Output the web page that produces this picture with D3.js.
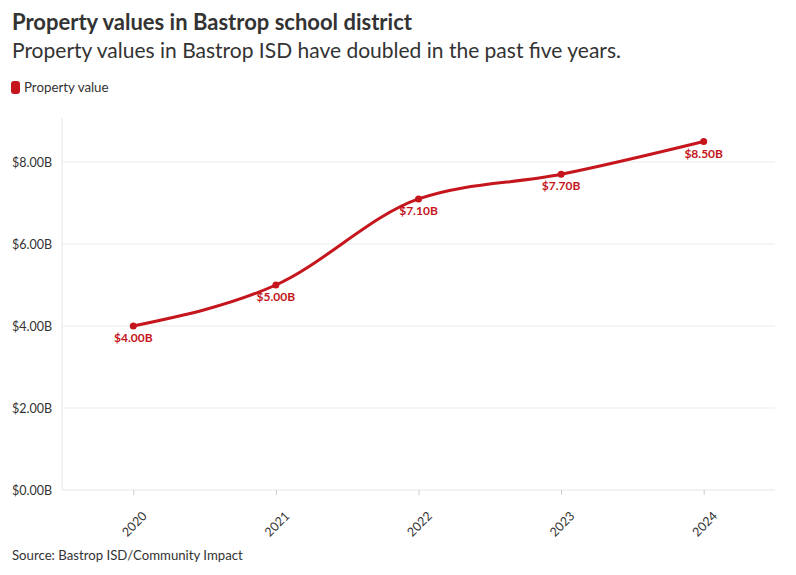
<!DOCTYPE html>
<html lang="en">
<head>
<meta charset="UTF-8">
<title>Property values in Bastrop school district</title>
<style>
  body { margin: 0; background: #fff; }
  text { font-family: Lato, "Noto Sans", sans-serif; }
</style>
</head>
<body>
<div id="target"></div>
<script src="https://d3js.org/d3.v7.min.js"></script>
<script>
  const years = ["2020", "2021", "2022", "2023", "2024"];
  const values = [4.0, 5.0, 7.1, 7.7, 8.5]; // billions
  const yTicks = [0, 2, 4, 6, 8];

  const width = 796, height = 575;
  const red = "#c4161c";
  const plotLeft = 62, plotRight = 775, plotTop = 118, plotBottom = 490;

  const svg = d3.select("#target").append("svg")
    .attr("width", width).attr("height", height);

  svg.append("text").attr("x", 12).attr("y", 30)
    .attr("font-size", 22).attr("font-weight", 700).attr("fill", "#333")
    .text("Property values in Bastrop school district");
  svg.append("text").attr("x", 12).attr("y", 58)
    .attr("font-size", 21).attr("fill", "#333")
    .text("Property values in Bastrop ISD have doubled in the past five years.");

  svg.append("rect").attr("x", 11).attr("y", 81).attr("width", 9).attr("height", 13)
    .attr("rx", 3).attr("fill", red);
  svg.append("text").attr("x", 24).attr("y", 92)
    .attr("font-size", 13.3).attr("fill", "#333").text("Property value");

  const x = d3.scalePoint().domain(years).range([plotLeft, plotRight]).padding(0.5);
  const y = d3.scaleLinear().domain([0, 8]).range([plotBottom, plotBottom - 328]);
  const fmt = d => "$" + d.toFixed(2) + "B";

  // gridlines
  svg.append("g").selectAll("line").data(yTicks.filter(d => d > 0)).join("line")
    .attr("x1", plotLeft).attr("x2", plotRight)
    .attr("y1", d => y(d)).attr("y2", d => y(d))
    .attr("stroke", "#ebebeb");

  // y axis
  const ya = svg.append("g").attr("transform", `translate(${plotLeft},0)`)
    .call(d3.axisLeft(y).tickValues(yTicks).tickFormat(fmt).tickSize(0).tickPadding(10));
  ya.select(".domain").remove();
  ya.selectAll("text").attr("font-size", 12.5).attr("fill", "#333")
    .style("font-family", "Lato, 'Noto Sans', sans-serif");
  svg.append("line").attr("x1", plotLeft).attr("x2", plotLeft)
    .attr("y1", plotTop).attr("y2", plotBottom)
    .attr("stroke", "#e6e6e6");

  // x axis
  const xa = svg.append("g").attr("transform", `translate(0,${plotBottom})`)
    .call(d3.axisBottom(x).tickSize(5).tickPadding(6));
  xa.select(".domain").attr("stroke", "#e6e6e6").attr("d", `M${plotLeft},0H${plotRight}`);
  xa.selectAll(".tick line").attr("stroke", "#ccc");
  xa.selectAll("text").attr("font-size", 12.5).attr("fill", "#333")
    .style("font-family", "Lato, 'Noto Sans', sans-serif")
    .attr("text-anchor", "end").attr("dy", "0.35em")
    .attr("transform", "translate(3,16) rotate(-45)");

  const data = years.map((yr, i) => ({ yr, v: values[i] }));

  svg.append("path").datum(data)
    .attr("fill", "none").attr("stroke", red).attr("stroke-width", 3)
    .attr("d", d3.line().x(d => x(d.yr)).y(d => y(d.v)).curve(d3.curveMonotoneX));

  svg.append("g").selectAll("circle").data(data).join("circle")
    .attr("cx", d => x(d.yr)).attr("cy", d => y(d.v)).attr("r", 3.5).attr("fill", red);

  svg.append("g").selectAll("text").data(data).join("text")
    .attr("x", d => x(d.yr)).attr("y", d => y(d.v) + 16)
    .attr("text-anchor", "middle").attr("font-size", 12).attr("font-weight", 700)
    .attr("fill", red).text(d => fmt(d.v));

  svg.append("text").attr("x", 12).attr("y", 560)
    .attr("font-size", 13.2).attr("fill", "#333")
    .text("Source: Bastrop ISD/Community Impact");
</script>
</body>
</html>
